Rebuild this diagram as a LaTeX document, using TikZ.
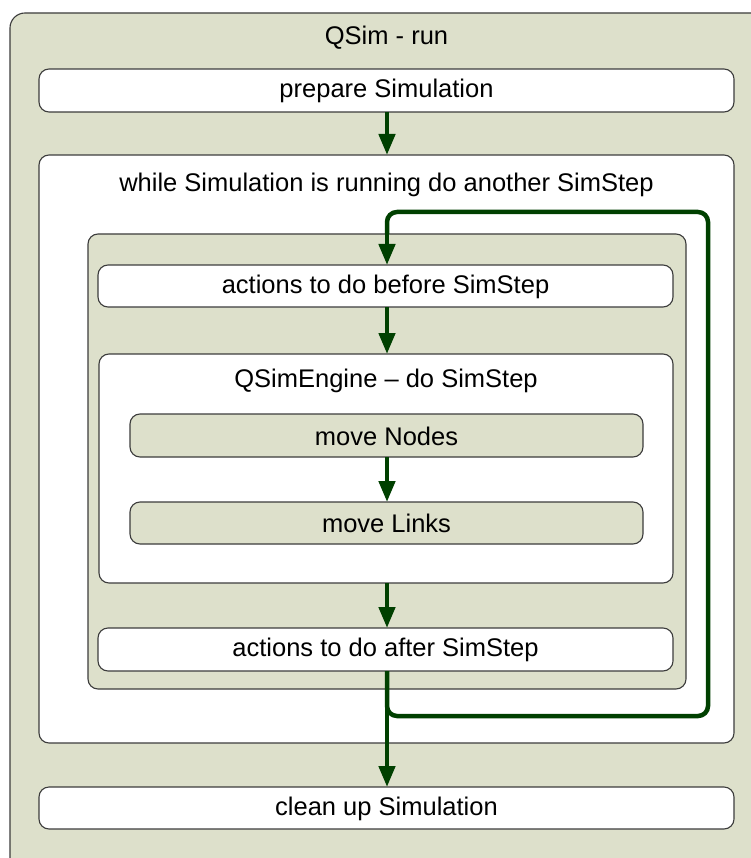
\documentclass[tikz,border=0pt]{standalone}
\usepackage{fontspec}
\setmainfont{Liberation Sans}
\usetikzlibrary{arrows.meta}
\definecolor{bgreen}{RGB}{221,224,203}
\definecolor{arrgreen}{RGB}{0,64,0}
\definecolor{edge}{RGB}{60,60,60}
\tikzset{
  box/.style={draw=edge, line width=1.1pt, rounded corners=10pt},
  wbox/.style={box, fill=white},
  gbox/.style={box, fill=bgreen},
  lbl/.style={font=\fontsize{25.5}{30}\selectfont, text=black, inner sep=0pt},
  flow/.style={draw=arrgreen, line width=4.5pt, -{Triangle[length=21pt,width=16pt]}},
  loopline/.style={draw=arrgreen, line width=4.5pt, rounded corners=10pt}
}
\begin{document}
\begin{tikzpicture}[x=1pt,y=-1pt]
\useasboundingbox (0,0) rectangle (751,858);
\clip (0,0) rectangle (751,858);
\fill[white] (0,0) rectangle (751,858);
% outer box
\draw[gbox, rounded corners=15pt] (10,13) rectangle (775,880);
\node[lbl] (title) at (386.5,38) {QSim - run};
% prepare
\draw[wbox] (39,69) rectangle (734,112);
\node[lbl] (prep) at (386.5,91) {prepare Simulation};
\coordinate (prepS) at (387,112);
% while box
\draw[wbox] (39,155) rectangle (734,743);
\node[lbl] (while) at (386.5,185) {while Simulation is running do another SimStep};
\coordinate (whileN) at (387,155);
% inner green
\draw[gbox] (88,234) rectangle (686,689);
% before
\draw[wbox] (98,265) rectangle (673,307);
\node[lbl] (before) at (385.5,286.5) {actions to do before SimStep};
\coordinate (beforeN) at (387,265);
\coordinate (beforeS) at (387,307);
% engine
\draw[wbox] (99,354) rectangle (673,583);
\node[lbl] (engine) at (386,381) {QSimEngine – do SimStep};
\coordinate (engineN) at (387,354);
\coordinate (engineS) at (387,583);
% move nodes
\draw[gbox] (130,414) rectangle (643,457);
\node[lbl] (mnodes) at (386.5,436) {move Nodes};
\coordinate (mnodesS) at (387,457);
% move links
\draw[gbox] (130,502) rectangle (643,544);
\node[lbl] (mlinks) at (386.5,523.5) {move Links};
\coordinate (mlinksN) at (387,502);
% after
\draw[wbox] (98,628) rectangle (673,671);
\node[lbl] (after) at (385.5,650) {actions to do after SimStep};
\coordinate (afterN) at (387,628);
\coordinate (afterS) at (387,671);
% clean
\draw[wbox] (39,787) rectangle (734,829);
\node[lbl] (clean) at (386.5,808.5) {clean up Simulation};
\coordinate (cleanN) at (387,787);
% loop corners
\coordinate (lb) at (387,716);
\coordinate (rb) at (708,716);
\coordinate (rt) at (708,212);
\coordinate (lt) at (387,212);
% arrows
\draw[loopline] (afterS) -- (lb) -- (rb) -- (rt) -- (lt) -- ([yshift=-22pt]lt);
\draw[flow] ([yshift=-12pt]lt) -- (beforeN);
\draw[flow] (prepS) -- (whileN);
\draw[flow] (beforeS) -- (engineN);
\draw[flow] (mnodesS) -- (mlinksN);
\draw[flow] (engineS) -- (afterN);
\draw[flow] (afterS) -- (cleanN);
\end{tikzpicture}
\end{document}
